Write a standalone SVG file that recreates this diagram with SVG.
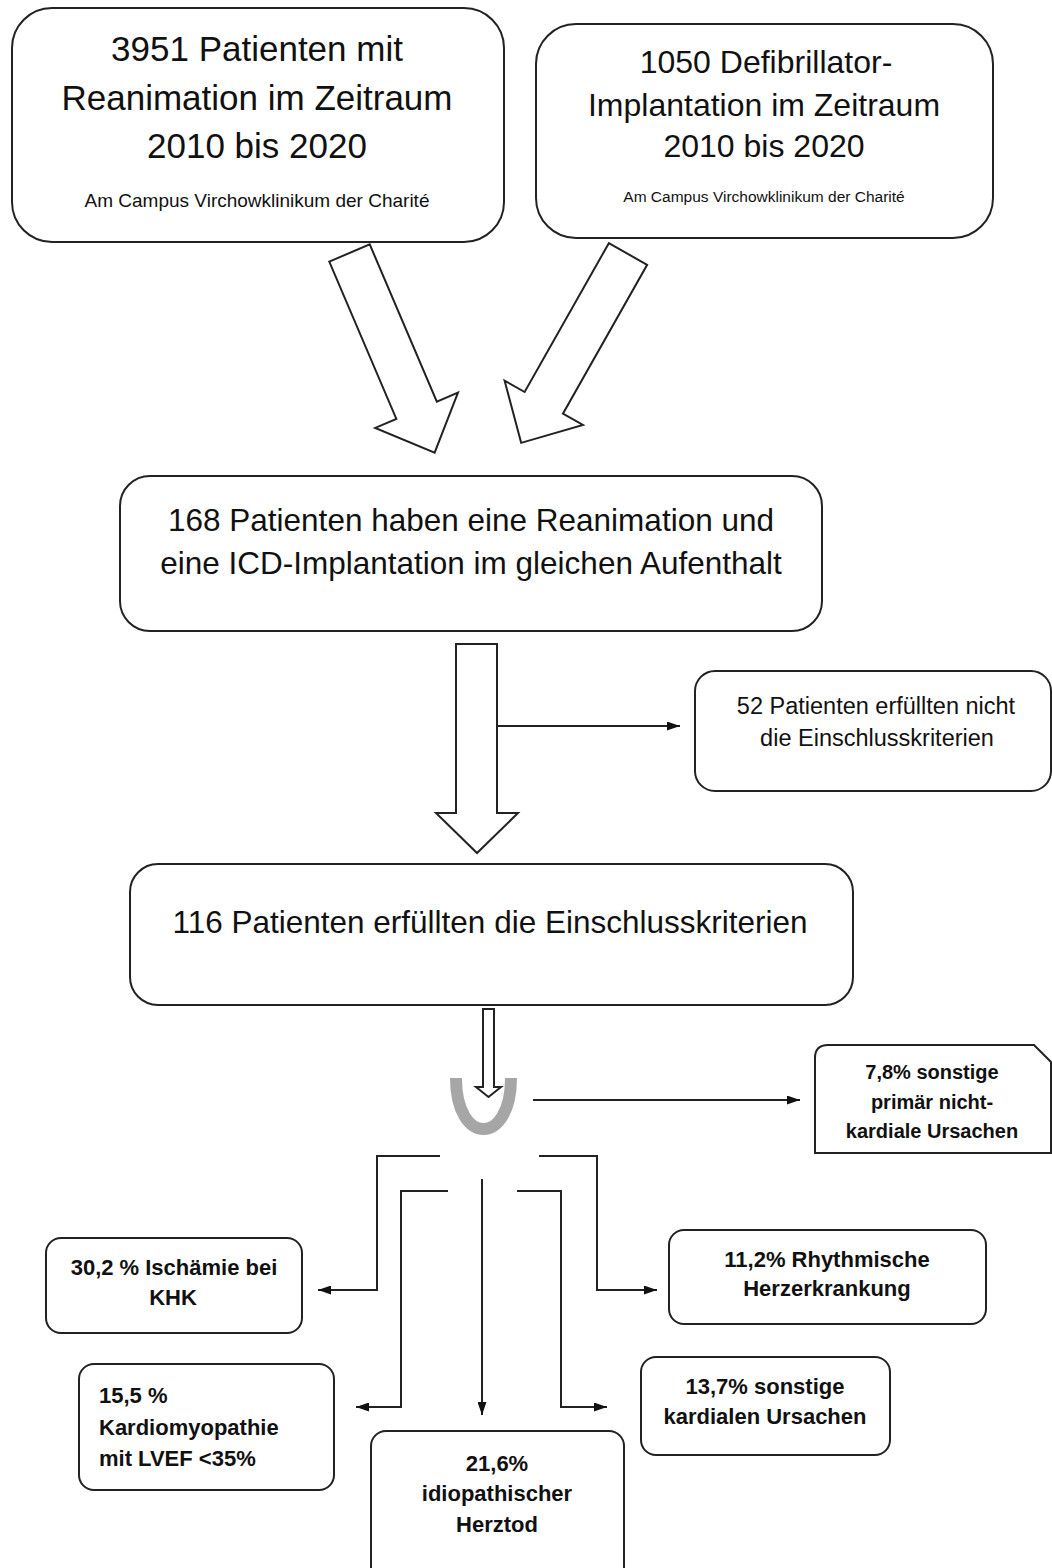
<svg xmlns="http://www.w3.org/2000/svg" width="1052" height="1568" viewBox="0 0 1052 1568">
<style>
.box{fill:#fff;stroke:#222;stroke-width:2}
.blk{fill:#fff;stroke:#222;stroke-width:2;stroke-linejoin:miter}
.ln{fill:none;stroke:#222;stroke-width:2}
.t{font-family:"Liberation Sans",Arial,sans-serif;fill:#111;text-anchor:middle}
.b{font-weight:bold}
</style>
<defs>
<marker id="ah" markerUnits="userSpaceOnUse" viewBox="0 0 13 9" refX="13" refY="4.5" markerWidth="13" markerHeight="9" orient="auto">
<path d="M0,0 L13,4.5 L0,9 Z" fill="#111"/>
</marker>
</defs>
<rect width="1052" height="1568" fill="#fff"/>

<g id="connectors">
<polygon class="blk" transform="translate(349.5,253) rotate(-23.1)" points="-22,0 22,0 22,171 45,171 0,217 -45,171 -22,171"/>
<polygon class="blk" transform="translate(628,254) rotate(29.5)" points="-22,0 22,0 22,171 45,171 0,217 -45,171 -22,171"/>
<polygon class="blk" points="456,644 497,644 497,813 518,813 477,853 436,813 456,813"/>
<line class="ln" x1="498" y1="726" x2="680" y2="726" marker-end="url(#ah)"/>
<path d="M456,1078 C456,1146 511,1146 511,1078" fill="none" stroke="#a6a6a6" stroke-width="12"/>
<polygon class="blk" stroke-width="1.5" points="483,1009 494,1009 494,1087 501,1087 488.5,1097 476,1087 483,1087"/>
<line class="ln" x1="533" y1="1100" x2="800" y2="1100" marker-end="url(#ah)"/>
<polyline class="ln" points="440,1156 377,1156 377,1290 318,1290" marker-end="url(#ah)"/>
<polyline class="ln" points="448,1191 401,1191 401,1407 356,1407" marker-end="url(#ah)"/>
<line class="ln" x1="482" y1="1179" x2="482" y2="1415" marker-end="url(#ah)"/>
<polyline class="ln" points="517,1191 561,1191 561,1407 607,1407" marker-end="url(#ah)"/>
<polyline class="ln" points="539,1156 597,1156 597,1290 657,1290" marker-end="url(#ah)"/>
</g>

<g id="n1">
<rect class="box" x="12" y="8" width="492" height="234" rx="40"/>
<text class="t" font-size="35" x="257" y="61">3951 Patienten mit</text>
<text class="t" font-size="35" x="257" y="110">Reanimation im Zeitraum</text>
<text class="t" font-size="35" x="257" y="158">2010 bis 2020</text>
<text class="t" font-size="19" x="257" y="207">Am Campus Virchowklinikum der Charité</text>
</g>

<g id="n2">
<rect class="box" x="536" y="24" width="457" height="214" rx="40"/>
<text class="t" font-size="32" x="766" y="73">1050 Defibrillator-</text>
<text class="t" font-size="32" x="764" y="116">Implantation im Zeitraum</text>
<text class="t" font-size="32" x="764" y="157">2010 bis 2020</text>
<text class="t" font-size="15.5" x="764" y="202">Am Campus Virchowklinikum der Charité</text>
</g>

<g id="n3">
<rect class="box" x="120" y="476" width="702" height="155" rx="30"/>
<text class="t" font-size="31.5" x="471" y="531">168 Patienten haben eine Reanimation und</text>
<text class="t" font-size="31.5" x="471" y="574">eine ICD-Implantation im gleichen Aufenthalt</text>
</g>

<g id="n4">
<rect class="box" x="695" y="671" width="356" height="120" rx="20"/>
<text class="t" font-size="23.5" x="876" y="714">52 Patienten erfüllten nicht</text>
<text class="t" font-size="23.5" x="877" y="746">die Einschlusskriterien</text>
</g>

<g id="n5">
<rect class="box" x="130" y="864" width="723" height="141" rx="28"/>
<text class="t" font-size="31.5" x="490" y="933">116 Patienten erfüllten die Einschlusskriterien</text>
</g>

<g id="n6">
<path class="box" d="M815,1153 L815,1058 Q815,1045 828,1045 L1034,1045 L1051,1062 L1051,1153 Z"/>
<text class="t b" font-size="20" x="932" y="1079">7,8% sonstige</text>
<text class="t b" font-size="20" x="932" y="1109">primär nicht-</text>
<text class="t b" font-size="20" x="932" y="1138">kardiale Ursachen</text>
</g>

<g id="n7">
<rect class="box" x="46" y="1238" width="256" height="95" rx="15"/>
<text class="t b" font-size="22" x="174" y="1275">30,2 % Ischämie bei</text>
<text class="t b" font-size="22" x="173" y="1305">KHK</text>
</g>

<g id="n8">
<rect class="box" x="669" y="1230" width="317" height="94" rx="15"/>
<text class="t b" font-size="22" x="827" y="1267">11,2% Rhythmische</text>
<text class="t b" font-size="22" x="827" y="1296">Herzerkrankung</text>
</g>

<g id="n9">
<rect class="box" x="79" y="1364" width="255" height="126" rx="15"/>
<text class="t b" font-size="22" x="99" y="1403" text-anchor="start" style="text-anchor:start">15,5 %</text>
<text class="t b" font-size="22" x="99" y="1435" style="text-anchor:start">Kardiomyopathie</text>
<text class="t b" font-size="22" x="99" y="1466" style="text-anchor:start">mit LVEF &lt;35%</text>
</g>

<g id="n10">
<rect class="box" x="641" y="1357" width="249" height="98" rx="15"/>
<text class="t b" font-size="22" x="765" y="1394">13,7% sonstige</text>
<text class="t b" font-size="22" x="765" y="1424">kardialen Ursachen</text>
</g>

<g id="n11">
<rect class="box" x="371" y="1431" width="253" height="160" rx="15"/>
<text class="t b" font-size="22" x="497" y="1471">21,6%</text>
<text class="t b" font-size="22" x="497" y="1501">idiopathischer</text>
<text class="t b" font-size="22" x="497" y="1532">Herztod</text>
</g>
</svg>
